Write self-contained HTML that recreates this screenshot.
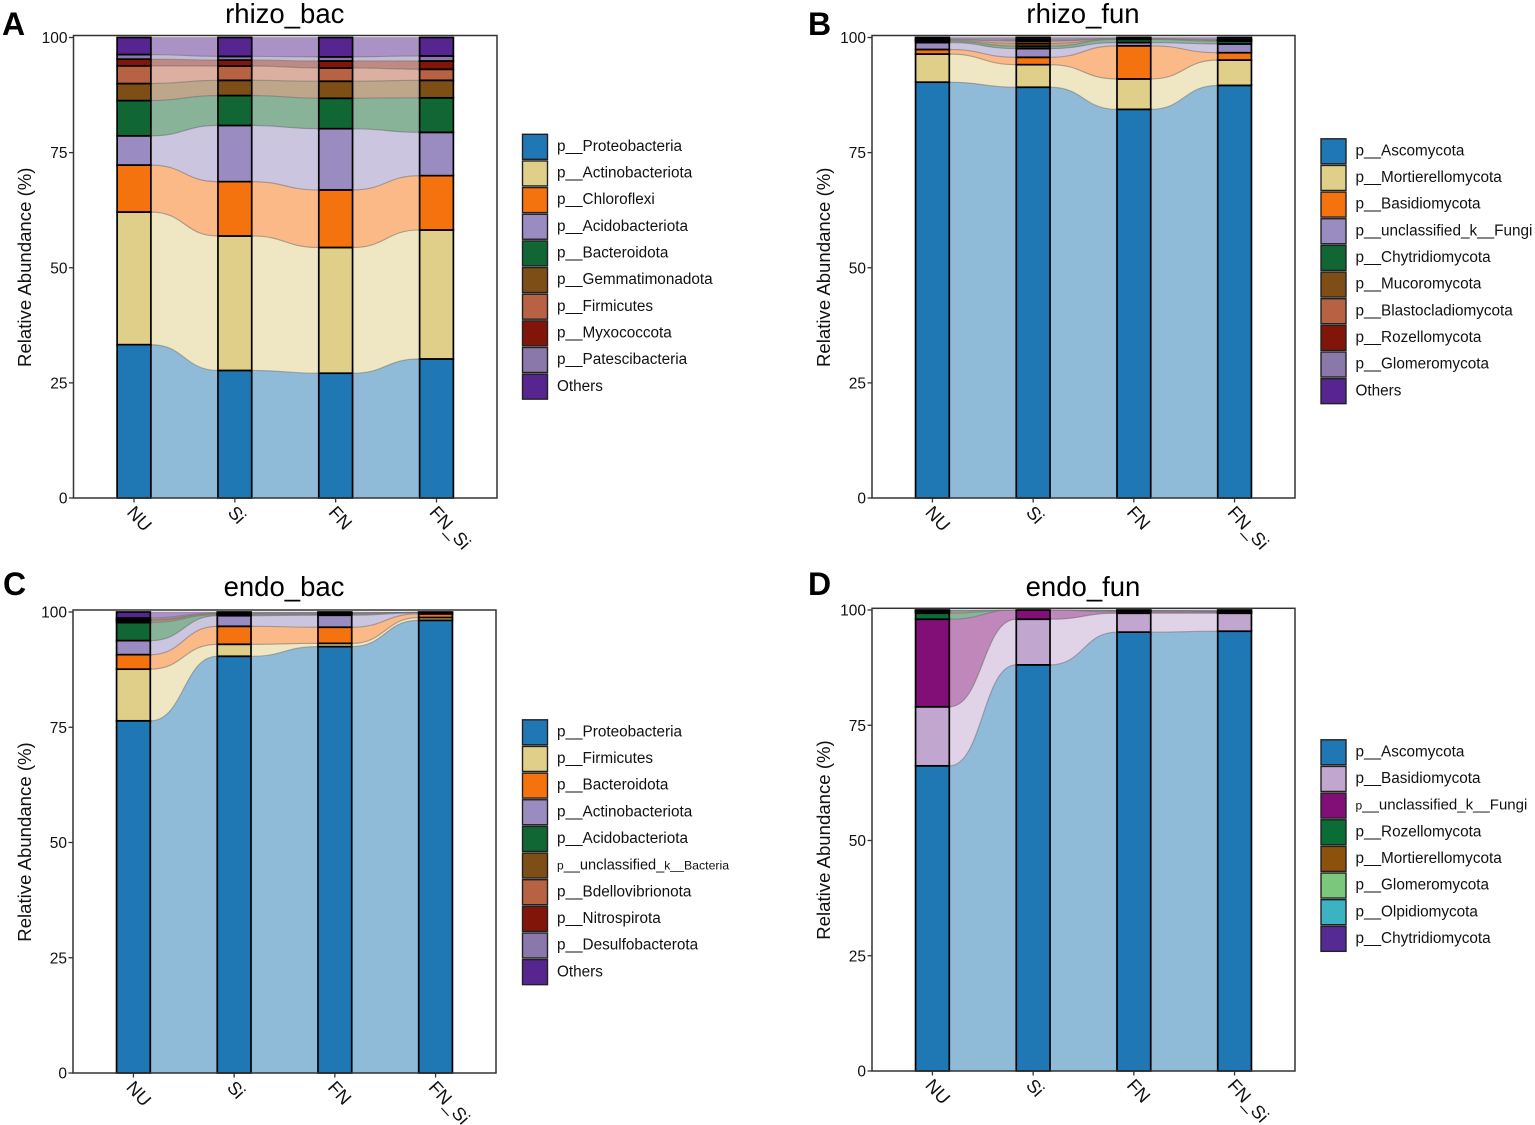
<!DOCTYPE html>
<html lang="en">
<head>
<meta charset="utf-8">
<title>Relative abundance alluvial charts</title>
<style>
  html, body { margin: 0; padding: 0; background: #fff; }
  #figure { display: block; width: 1535px; height: 1125px; font-family: "Liberation Sans", Arial, sans-serif; }
</style>
</head>
<body>
<svg id="figure" xmlns="http://www.w3.org/2000/svg" width="1535" height="1125" viewBox="0 0 1535 1125"></svg>
<script>
// ---------- shared axis data ----------
const rhizoCategories = ["NU", "Si", "FN", "FN_Si"];
const yTickValues = [0, 25, 50, 75, 100];
const yTickLabels = ["0", "25", "50", "75", "100"];

// ---------- panel A: rhizo_bac ----------
const rhizoBacTaxa = ["p__Proteobacteria", "p__Actinobacteriota", "p__Chloroflexi", "p__Acidobacteriota", "p__Bacteroidota", "p__Gemmatimonadota", "p__Firmicutes", "p__Myxococcota", "p__Patescibacteria", "Others"];
const rhizoBacNU = [33.3, 28.8, 10.2, 6.35, 7.65, 3.7, 3.85, 1.45, 1.0, 3.7];
const rhizoBacSi = [27.7, 29.2, 11.8, 12.2, 6.5, 3.3, 3.1, 1.3, 0.8, 4.1];
const rhizoBacFN = [27.1, 27.3, 12.5, 13.3, 6.6, 3.7, 2.9, 1.5, 0.9, 4.2];
const rhizoBacFNSi = [30.2, 28.0, 11.8, 9.4, 7.5, 3.8, 2.4, 1.8, 1.1, 4.0];

// ---------- panel B: rhizo_fun ----------
const rhizoFunTaxa = ["p__Ascomycota", "p__Mortierellomycota", "p__Basidiomycota", "p__unclassified_k__Fungi", "p__Chytridiomycota", "p__Mucoromycota", "p__Blastocladiomycota", "p__Rozellomycota", "p__Glomeromycota", "Others"];
const rhizoFunNU = [90.3, 6.1, 1.0, 1.5, 0.3, 0.2, 0.1, 0.1, 0.1, 0.3];
const rhizoFunSi = [89.2, 4.9, 1.6, 1.9, 0.5, 0.6, 0.5, 0.2, 0.2, 0.4];
const rhizoFunFN = [84.4, 6.6, 7.2, 0.7, 0.7, 0.05, 0.05, 0.05, 0.05, 0.2];
const rhizoFunFNSi = [89.6, 5.5, 1.6, 1.9, 0.6, 0.1, 0.1, 0.1, 0.1, 0.4];

// ---------- panel C: endo_bac ----------
const endoBacTaxa = ["p__Proteobacteria", "p__Firmicutes", "p__Bacteroidota", "p__Actinobacteriota", "p__Acidobacteriota", "p__unclassified_k__Bacteria", "p__Bdellovibrionota", "p__Nitrospirota", "p__Desulfobacterota", "Others"];
const endoBacNU = [76.4, 11.2, 3.15, 3.05, 3.9, 0.3, 0.2, 0.3, 0.2, 1.3];
const endoBacSi = [90.4, 2.6, 3.9, 2.3, 0.2, 0.1, 0.1, 0.1, 0.1, 0.2];
const endoBacFN = [92.5, 0.7, 3.5, 2.6, 0.2, 0.1, 0.1, 0.05, 0.05, 0.2];
const endoBacFNSi = [98.2, 0.6, 0.8, 0.2, 0.1, 0, 0, 0, 0, 0.1];

// ---------- panel D: endo_fun ----------
const endoFunTaxa = ["p__Ascomycota", "p__Basidiomycota", "p__unclassified_k__Fungi", "p__Rozellomycota", "p__Mortierellomycota", "p__Glomeromycota", "p__Olpidiomycota", "p__Chytridiomycota"];
const endoFunNU = [66.2, 12.8, 19.0, 1.3, 0.3, 0.2, 0.1, 0.1];
const endoFunSi = [88.1, 9.9, 2.0, 0, 0, 0, 0, 0];
const endoFunFN = [95.2, 4.1, 0.3, 0.1, 0.1, 0.1, 0, 0.1];
const endoFunFNSi = [95.4, 3.9, 0.2, 0.1, 0.1, 0, 0, 0.3];

// ---------- palettes ----------
const paletteTen = ["#1f77b4", "#dfcf88", "#f5730f", "#9a8cc0", "#116733", "#7d4e16", "#b86244", "#821509", "#8a78ab", "#562590"];
const paletteEight = ["#1f77b4", "#c1a7d0", "#820f78", "#0b6d36", "#8c510a", "#7bc87c", "#3bb3c3", "#552a93"];

// ---------- panel layout ----------
const panels = [
  { id: "a", letter: "A", letterX: 2, letterY: 35, title: "rhizo_bac", titleY: 23, left: 73.5, right: 497, top: 35.5, y100: 37.5, y0: 498, axisTitleX: 31, keyX: 522.5, keyY: 133.5, taxa: rhizoBacTaxa, samples: [rhizoBacNU, rhizoBacSi, rhizoBacFN, rhizoBacFNSi], colors: paletteTen },
  { id: "b", letter: "B", letterX: 808, letterY: 35, title: "rhizo_fun", titleY: 23, left: 872, right: 1295, top: 35.5, y100: 37.5, y0: 498, axisTitleX: 830, keyX: 1321, keyY: 138, taxa: rhizoFunTaxa, samples: [rhizoFunNU, rhizoFunSi, rhizoFunFN, rhizoFunFNSi], colors: paletteTen },
  { id: "c", letter: "C", letterX: 3, letterY: 595, title: "endo_bac", titleY: 596, left: 73, right: 496, top: 610, y100: 612, y0: 1073, axisTitleX: 31, keyX: 522.5, keyY: 719, taxa: endoBacTaxa, samples: [endoBacNU, endoBacSi, endoBacFN, endoBacFNSi], colors: paletteTen },
  { id: "d", letter: "D", letterX: 808, letterY: 595, title: "endo_fun", titleY: 596, left: 872, right: 1295, top: 608.3, y100: 610, y0: 1071, axisTitleX: 830, keyX: 1321, keyY: 739, taxa: endoFunTaxa, samples: [endoFunNU, endoFunSi, endoFunFN, endoFunFNSi], colors: paletteEight }
];

const SVG_NS = "http://www.w3.org/2000/svg";
const root = document.getElementById("figure");
const BAR_WIDTH_UNITS = 0.335;
const LEGEND_STEP = 26.65;

function make(tag, parent) {
  const el = document.createElementNS(SVG_NS, tag);
  parent.appendChild(el);
  return el;
}
function setAll(el, props) {
  for (const k in props) el.setAttribute(k, props[k]);
}
function xScaleFor(p, n) {
  const unit = (p.right - p.left) / (n - 1 + 1.2);
  return { unit: unit, at: function (i) { return p.left + (i + 0.6) * unit; } };
}
function yScaleFor(p) {
  return function (v) { return p.y0 - v * (p.y0 - p.y100) / 100; };
}
function cumulative(values) {
  const out = [0];
  values.forEach(function (v) { out.push(out[out.length - 1] + v); });
  return out;
}
function fillLegendLabel(text, label) {
  // long labels were squeezed in the source figure by shrinking some pieces
  let parts = null;
  if (label === "p__unclassified_k__Bacteria") {
    parts = [["p", 12], ["__unclassified_", 14.6], ["k", 12], ["__Bacteria", 12.3]];
  } else if (label === "p__unclassified_k__Fungi" && text.getAttribute("data-small") === "1") {
    parts = [["p", 12], ["__unclassified_k__Fungi", 15]];
  }
  if (!parts) { text.textContent = label; return; }
  parts.forEach(function (part) {
    const span = make("tspan", text);
    span.setAttribute("font-size", part[1]);
    span.textContent = part[0];
  });
}

panels.forEach(function (p) {
  const n = p.samples.length;
  const xs = xScaleFor(p, n);
  const y = yScaleFor(p);
  const half = xs.unit * BAR_WIDTH_UNITS / 2;
  const stacks = p.samples.map(cumulative);

  const group = make("g", root);
  
  

  // panel letter
  const letter = make("text", group);
  
  
  setAll(letter, { x: p.letterX, y: p.letterY, "font-size": 32, "font-weight": "bold", fill: "#000" });
  letter.textContent = p.letter;

  // title
  const title = make("text", group);
  
  
  setAll(title, { x: (p.left + p.right) / 2 - 0.5, y: p.titleY, "font-size": 27.5, "text-anchor": "middle", fill: "#000" });
  title.textContent = p.title;

  // background of plot
  const plotBg = make("rect", group);
  
  
  setAll(plotBg, { x: p.left, y: p.top, width: p.right - p.left, height: p.y0 - p.top, fill: "#fff" });

  // alluvial flows between neighbouring bars
  p.taxa.forEach(function (taxon, k) {
    for (let i = 0; i < n - 1; i++) {
      const x1 = xs.at(i) + half;
      const x2 = xs.at(i + 1) - half;
      const mx = (x1 + x2) / 2;
      const t1 = y(stacks[i][k + 1]);
      const b1 = y(stacks[i][k]);
      const t2 = y(stacks[i + 1][k + 1]);
      const b2 = y(stacks[i + 1][k]);
      const d = "M" + x1 + " " + t1 +
        " C" + mx + " " + t1 + " " + mx + " " + t2 + " " + x2 + " " + t2 +
        " L" + x2 + " " + b2 +
        " C" + mx + " " + b2 + " " + mx + " " + b1 + " " + x1 + " " + b1 + " Z";
      const flow = make("path", group);
      
      
      setAll(flow, { d: d, fill: p.colors[k], "fill-opacity": 0.5, stroke: "#777", "stroke-opacity": 0.38, "stroke-width": 1.1 });
    }
  });

  // stacked bars
  p.samples.forEach(function (values, i) {
    values.forEach(function (v, k) {
      const top = y(stacks[i][k + 1]);
      const bottom = y(stacks[i][k]);
      const bar = make("rect", group);
      
      
      setAll(bar, { x: xs.at(i) - half, y: top, width: half * 2, height: Math.max(bottom - top, 0), fill: p.colors[k], stroke: "#000", "stroke-width": 1.7 });
    });
  });

  // panel border
  const frame = make("rect", group);
  
  
  setAll(frame, { x: p.left, y: p.top, width: p.right - p.left, height: p.y0 - p.top, fill: "none", stroke: "#333", "stroke-width": 1.5 });

  // y axis
  yTickValues.forEach(function (v, t) {
    const tick = make("line", group);
    
    
    setAll(tick, { x1: p.left - 4.5, x2: p.left, y1: y(v), y2: y(v), stroke: "#333", "stroke-width": 1.3 });
    const label = make("text", group);
    
    
    setAll(label, { x: p.left - 6, y: y(v) + 5.6, "font-size": 15.5, "text-anchor": "end", fill: "#111" });
    label.textContent = yTickLabels[t];
  });

  const axisTitle = make("text", group);
  
  
  const axisMid = (p.y100 + p.y0) / 2 - 0.5;
  setAll(axisTitle, { x: p.axisTitleX, y: axisMid, "font-size": 18.6, "text-anchor": "middle", fill: "#111", transform: "rotate(-90 " + p.axisTitleX + " " + axisMid + ")" });
  axisTitle.textContent = "Relative Abundance (%)";

  // x axis
  rhizoCategories.forEach(function (cat, i) {
    const cx = xs.at(i);
    const tick = make("line", group);
    
    
    setAll(tick, { x1: cx, x2: cx, y1: p.y0, y2: p.y0 + 4.5, stroke: "#333", "stroke-width": 1.3 });
    const label = make("text", group);
    
    
    const lx = cx - 8;
    const ly = p.y0 + 15;
    setAll(label, { x: lx, y: ly, "font-size": 18.3, fill: "#111", transform: "rotate(48 " + lx + " " + ly + ")" });
    label.textContent = cat;
  });

  // legend
  p.taxa.forEach(function (taxon, k) {
    const rowY = p.keyY + k * LEGEND_STEP;
    const key = make("rect", group);
    
    
    setAll(key, { x: p.keyX, y: rowY + 0.8, width: 25, height: 25, fill: p.colors[k], stroke: "#222", "stroke-width": 1.4 });
    const text = make("text", group);
    
    
    setAll(text, { x: p.keyX + 34.5, y: rowY + 17.4, "font-size": 15.3, fill: "#111" });
    if (p.id === "d") text.setAttribute("data-small", "1");
    fillLegendLabel(text, taxon);
  });
});
</script>
</body>
</html>
